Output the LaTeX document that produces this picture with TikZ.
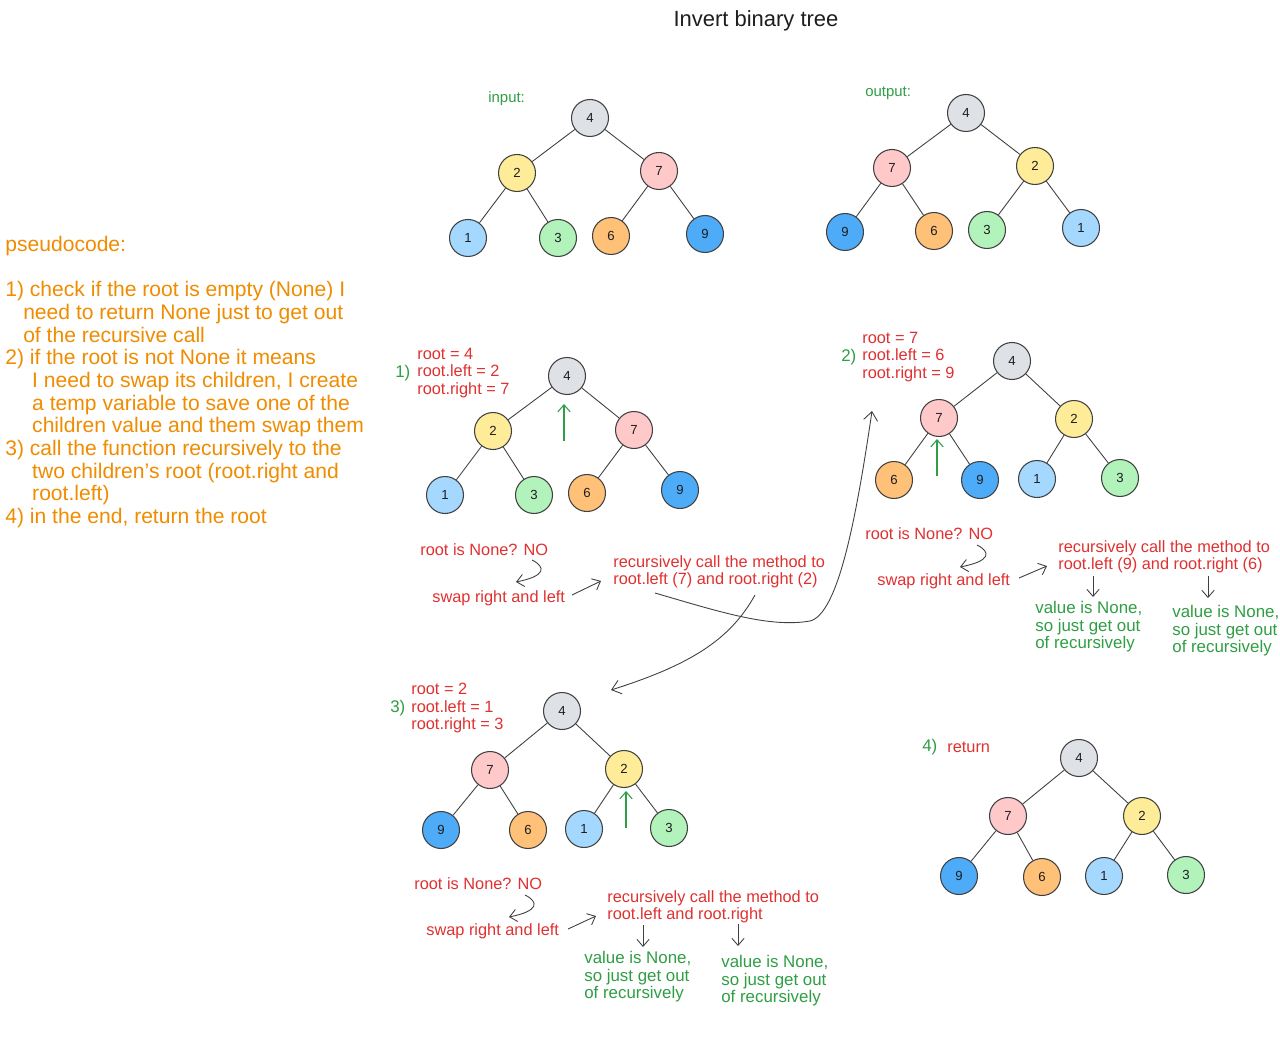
\documentclass[tikz,border=0pt]{standalone}
\usepackage{fontspec}
\setmainfont{Liberation Sans}
\usetikzlibrary{arrows.meta}
\definecolor{orangeT}{HTML}{F08C00}
\definecolor{redT}{HTML}{E03131}
\definecolor{greenT}{HTML}{2F9E44}
\definecolor{inkc}{HTML}{1E1E1E}
\definecolor{edgec}{HTML}{404040}
\definecolor{cgray}{HTML}{DEE2E6}
\definecolor{cyel}{HTML}{FFEC99}
\definecolor{cpink}{HTML}{FFC9C9}
\definecolor{clblue}{HTML}{A5D8FF}
\definecolor{clgreen}{HTML}{B2F2BB}
\definecolor{corange}{HTML}{FFC078}
\definecolor{cblue}{HTML}{4DABF7}
\tikzset{
  nd/.style={circle,draw=edgec,line width=0.6pt,minimum size=0.74cm,inner sep=0pt,
    font=\fontsize{7.5}{9}\selectfont,text=inkc},
  gy/.style={nd,fill=cgray},
  yl/.style={nd,fill=cyel},
  pk/.style={nd,fill=cpink},
  lb/.style={nd,fill=clblue},
  lg/.style={nd,fill=clgreen},
  og/.style={nd,fill=corange},
  bl/.style={nd,fill=cblue},
  ed/.style={draw=edgec,line width=0.5pt},
  redt/.style={text=redT,font=\fontsize{9.3}{9.9}\selectfont,align=left,inner sep=0pt,anchor=west},
  greent/.style={text=greenT,font=\fontsize{9.6}{10}\selectfont,align=left,inner sep=0pt,anchor=west},
  arr/.style={draw=edgec,line width=0.5pt,-{Straight Barb[length=4pt,width=7pt]}},
  rarr/.style={draw=edgec,line width=0.5pt,-{Straight Barb[length=5pt,width=8pt]}},
  garr/.style={draw=greenT,line width=0.6pt,-{Straight Barb[length=4pt,width=7pt]}},
}
\begin{document}
\begin{tikzpicture}[x=0.02cm,y=-0.02cm]
\useasboundingbox (0,0) rectangle (1280,1040);
\fill[white] (0,0) rectangle (1280,1040);

% title
\node[text=inkc,font=\fontsize{12.5}{14}\selectfont,inner sep=0pt] (title) at (756,21) {Invert binary tree};

% pseudocode
\node[text=orangeT,font=\fontsize{12}{12.9}\selectfont,align=left,inner sep=0pt,anchor=west] (pseudo) at (5,382) {pseudocode:\\[12.9pt]
1) check if the root is empty (None) I\\
\hspace*{10.2pt}need to return None just to get out\\
\hspace*{10.2pt}of the recursive call\\
2) if the root is not None it means\\
\hspace*{15.3pt}I need to swap its children, I create\\
\hspace*{15.3pt}a temp variable to save one of the\\
\hspace*{15.3pt}children value and them swap them\\
3) call the function recursively to the\\
\hspace*{15.3pt}two children's root (root.right and\\
\hspace*{15.3pt}root.left)\\
4) in the end, return the root};

% ---------- input tree
\node[greent,font=\fontsize{8.5}{9}\selectfont] (inlab) at (488,99) {input:};
\node[gy] (a4) at (590,118) {4};
\node[yl] (a2) at (517,173) {2};
\node[pk] (a7) at (659,171) {7};
\node[lb] (a1) at (468,238) {1};
\node[lg] (a3) at (558,238) {3};
\node[og] (a6) at (611,236) {6};
\node[bl] (a9) at (705,234) {9};
\draw[ed] (a4)--(a2) (a4)--(a7) (a2)--(a1) (a2)--(a3) (a7)--(a6) (a7)--(a9);

% ---------- output tree
\node[greent,font=\fontsize{8.5}{9}\selectfont] (outlab) at (865,93) {output:};
\node[gy] (b4) at (966,113) {4};
\node[pk] (b7) at (892,168) {7};
\node[yl] (b2) at (1035,166) {2};
\node[bl] (b9) at (845,232) {9};
\node[og] (b6) at (934,231) {6};
\node[lg] (b3) at (987,230) {3};
\node[lb] (b1) at (1081,228) {1};
\draw[ed] (b4)--(b7) (b4)--(b2) (b7)--(b9) (b7)--(b6) (b2)--(b3) (b2)--(b1);

% ---------- step 1 tree
\node[greent] (s1n) at (395,373) {1)};
\node[redt] (s1r) at (417,373) {root = 4\\root.left = 2\\root.right = 7};
\node[gy] (c4) at (567,376) {4};
\node[yl] (c2) at (493,431) {2};
\node[pk] (c7) at (634,430) {7};
\node[lb] (c1) at (445,495) {1};
\node[lg] (c3) at (534,495) {3};
\node[og] (c6) at (587,493) {6};
\node[bl] (c9) at (680,490) {9};
\draw[ed] (c4)--(c2) (c4)--(c7) (c2)--(c1) (c2)--(c3) (c7)--(c6) (c7)--(c9);
\coordinate (g1s) at (564,441); \coordinate (g1e) at (564,404);
\draw[garr] (g1s)--(g1e);
\node[redt] (none1) at (420,550) {root is None? NO};
\node[redt] (swap1) at (432,598) {swap right and left};
\node[redt] (rec1) at (613,571.5) {recursively call the method to\\root.left (7) and root.right (2)};
\coordinate (h1s) at (532,560); \coordinate (h1e) at (516,582);
\draw[arr] (h1s) .. controls (546,567) and (546,576) .. (h1e);
\coordinate (k1s) at (572,595); \coordinate (k1e) at (601,581);
\draw[arr] (k1s)--(k1e);

% long connectors
\coordinate (L1s) at (655,593); \coordinate (L1m) at (810,621); \coordinate (L1e) at (872,411);
\draw[rarr] (L1s) .. controls (720,612) and (770,628) .. (L1m) .. controls (838,614) and (856,520) .. (L1e);
\coordinate (L2s) at (755,595); \coordinate (L2e) at (611,690);
\draw[rarr] (L2s) .. controls (730,640) and (690,665) .. (L2e);

% ---------- step 2 tree
\node[greent] (s2n) at (841,357) {2)};
\node[redt] (s2r) at (862,357) {root = 7\\root.left = 6\\root.right = 9};
\node[gy] (d4) at (1012,361) {4};
\node[pk] (d7) at (939,418) {7};
\node[yl] (d2) at (1074,419) {2};
\node[og] (d6) at (894,480) {6};
\node[bl] (d9) at (980,480) {9};
\node[lb] (d1) at (1037,479) {1};
\node[lg] (d3) at (1120,478) {3};
\draw[ed] (d4)--(d7) (d4)--(d2) (d7)--(d6) (d7)--(d9) (d2)--(d1) (d2)--(d3);
\coordinate (g2s) at (937,476); \coordinate (g2e) at (937,439);
\draw[garr] (g2s)--(g2e);
\node[redt] (none2) at (865,534) {root is None? NO};
\node[redt] (swap2) at (877,581) {swap right and left};
\node[redt] (rec2) at (1058,556.5) {recursively call the method to\\root.left (9) and root.right (6)};
\coordinate (h2s) at (977,545); \coordinate (h2e) at (960,567);
\draw[arr] (h2s) .. controls (991,552) and (991,561) .. (h2e);
\coordinate (k2s) at (1019,578); \coordinate (k2e) at (1047,566);
\draw[arr] (k2s)--(k2e);
\coordinate (m2s) at (1093,576); \coordinate (m2e) at (1093,597);
\draw[arr] (m2s)--(m2e);
\coordinate (n2s) at (1208,576); \coordinate (n2e) at (1208,598);
\draw[arr] (n2s)--(n2e);
\node[greent] (v2a) at (1035,627) {value is None,\\so just get out\\of recursively};
\node[greent] (v2b) at (1172,631) {value is None,\\so just get out\\of recursively};

% ---------- step 3 tree
\node[greent] (s3n) at (390,708) {3)};
\node[redt] (s3r) at (411,708) {root = 2\\root.left = 1\\root.right = 3};
\node[gy] (e4) at (562,711) {4};
\node[pk] (e7) at (490,770) {7};
\node[yl] (e2) at (624,769) {2};
\node[bl] (e9) at (441,830) {9};
\node[og] (e6) at (528,830) {6};
\node[lb] (e1) at (584,829) {1};
\node[lg] (e3) at (669,828) {3};
\draw[ed] (e4)--(e7) (e4)--(e2) (e7)--(e9) (e7)--(e6) (e2)--(e1) (e2)--(e3);
\coordinate (g3s) at (626,828); \coordinate (g3e) at (626,791);
\draw[garr] (g3s)--(g3e);
\node[redt] (none3) at (414,884) {root is None? NO};
\node[redt] (swap3) at (426,931) {swap right and left};
\node[redt] (rec3) at (607,906.5) {recursively call the method to\\root.left and root.right};
\coordinate (h3s) at (525,895); \coordinate (h3e) at (509,917);
\draw[arr] (h3s) .. controls (539,902) and (539,911) .. (h3e);
\coordinate (k3s) at (568,929); \coordinate (k3e) at (596,916);
\draw[arr] (k3s)--(k3e);
\coordinate (m3s) at (643,925); \coordinate (m3e) at (643,947);
\draw[arr] (m3s)--(m3e);
\coordinate (n3s) at (738,924); \coordinate (n3e) at (738,946);
\draw[arr] (n3s)--(n3e);
\node[greent] (v3a) at (584,977) {value is None,\\so just get out\\of recursively};
\node[greent] (v3b) at (721,981) {value is None,\\so just get out\\of recursively};

% ---------- step 4 tree
\node[greent] (s4n) at (922,747) {4)};
\node[redt] (s4r) at (947,747) {return};
\node[gy] (f4) at (1079,758) {4};
\node[pk] (f7) at (1008,816) {7};
\node[yl] (f2) at (1142,816) {2};
\node[bl] (f9) at (959,876) {9};
\node[og] (f6) at (1042,877) {6};
\node[lb] (f1) at (1104,876) {1};
\node[lg] (f3) at (1186,875) {3};
\draw[ed] (f4)--(f7) (f4)--(f2) (f7)--(f9) (f7)--(f6) (f2)--(f1) (f2)--(f3);
\end{tikzpicture}
\end{document}
